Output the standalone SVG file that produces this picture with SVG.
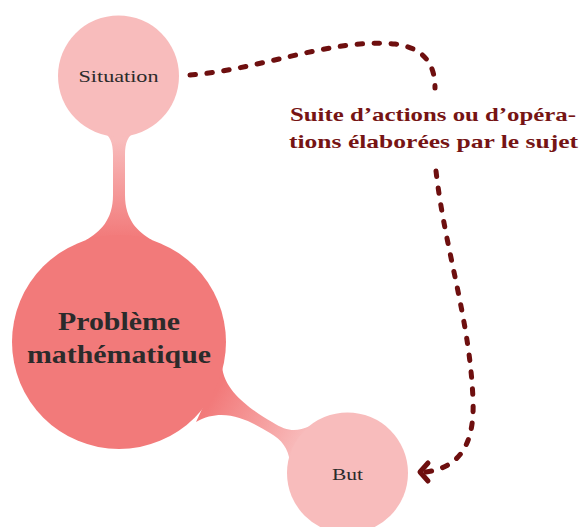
<svg xmlns="http://www.w3.org/2000/svg" width="583" height="527" viewBox="0 0 583 527">
<defs>
<linearGradient id="g1" x1="0" y1="140" x2="0" y2="238" gradientUnits="userSpaceOnUse">
<stop offset="0" stop-color="#f8bcbc"/>
<stop offset="1" stop-color="#f27a7a"/>
</linearGradient>
<linearGradient id="g2" x1="215" y1="395" x2="300" y2="445" gradientUnits="userSpaceOnUse">
<stop offset="0" stop-color="#f27a7a"/>
<stop offset="1" stop-color="#f8bcbc"/>
</linearGradient>
<style>
.small{fill:#f8bcbc}
.main{fill:#f27a7a}
.t{font-family:"Liberation Serif","Times New Roman",serif;fill:#2b2b2b;text-anchor:middle}
.lbl{font-family:"Liberation Serif","Times New Roman",serif;font-weight:bold;font-size:19px;fill:#761414}
.dash{fill:none;stroke:#6e0f0f;stroke-width:5;stroke-linecap:round;stroke-dasharray:5.5 11.5}
.head{fill:none;stroke:#6e0f0f;stroke-width:5;stroke-linecap:round;stroke-linejoin:round}
</style>
</defs>
<g id="connectors">
<path d="M 102 131 C 110 136, 113 142, 113 155 L 113 195 C 113 220, 100 232, 86 240 L 152 240 C 138 232, 125 220, 125 195 L 125 155 C 125 142, 128 136, 136 131 Z" fill="url(#g1)"/>
<path d="M 222 366 C 224 392, 252 410, 272 422 C 288 432, 296 432, 310 426 L 290 462 C 288 448, 282 440, 270 433 C 250 421, 224 406, 196 422 Z" fill="url(#g2)"/>
<path class="dash" d="M 190 75 C 260 70, 330 38, 395 44 C 425 48, 435 65, 435 88"/>
<path class="dash" d="M 436 171 C 445 250, 470 320, 473 400 C 475 450, 455 468, 426 472"/>
<polyline class="head" points="428,463 420,472 428,481"/>
</g>
<g id="node-situation">
<circle class="small" cx="118.5" cy="76" r="60.5"/>
<text class="t" x="118.5" y="82" font-size="16" textLength="80" lengthAdjust="spacingAndGlyphs">Situation</text>
</g>
<g id="node-probleme">
<circle class="main" cx="119" cy="342" r="107"/>
<text class="t" x="119" y="330" font-size="25" font-weight="bold" textLength="122" lengthAdjust="spacingAndGlyphs">Problème</text>
<text class="t" x="119" y="363" font-size="25" font-weight="bold" textLength="184" lengthAdjust="spacingAndGlyphs">mathématique</text>
</g>
<g id="node-but">
<circle class="small" cx="347.5" cy="473" r="60.5"/>
<text class="t" x="347.5" y="480" font-size="16" textLength="31" lengthAdjust="spacingAndGlyphs">But</text>
</g>
<g id="label">
<text class="lbl" x="290" y="121" textLength="286" lengthAdjust="spacingAndGlyphs">Suite d’actions ou d’opéra-</text>
<text class="lbl" x="289" y="148" textLength="289" lengthAdjust="spacingAndGlyphs">tions élaborées par le sujet</text>
</g>
</svg>
